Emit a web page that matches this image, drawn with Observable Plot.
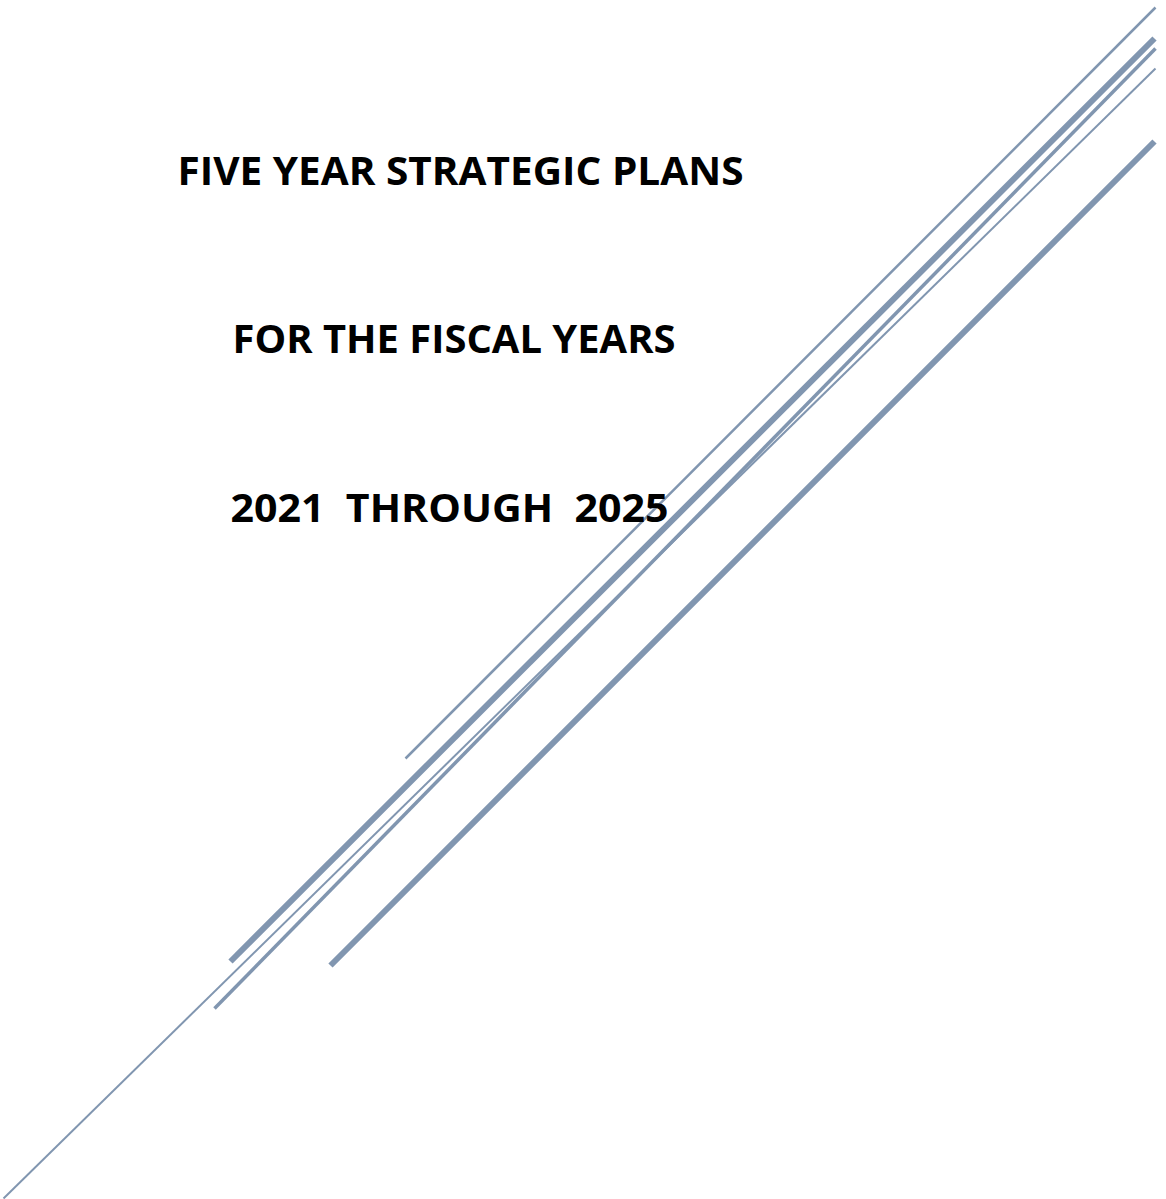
<!DOCTYPE html>
<html>
<head>
<meta charset="utf-8">
<script src="https://cdn.jsdelivr.net/npm/d3@7"></script>
<script src="https://cdn.jsdelivr.net/npm/@observablehq/plot@0.6"></script>
<style>
  html, body { margin: 0; padding: 0; background: #ffffff; }
  #chart svg { display: block; }
</style>
</head>
<body>
<div id="chart"></div>
<script>
// Title lines of the cover page
const titleLines = ["FIVE YEAR STRATEGIC PLANS", "FOR THE FISCAL YEARS", "2021  THROUGH  2025"];
const titleX = [177, 232, 230];
const titleY = [172.5, 340.5, 509.5];
const titleEndX = [743, 675, 668];

// Decorative diagonal rules (page coordinates, top-right end and bottom-left end)
const ruleTopX    = [1155, 1154, 1155, 1155, 1154];
const ruleTopY    = [7,    38,   48,   68,   141];
const ruleBottomX = [405,  230,  214,  3,    330];
const ruleBottomY = [758,  961,  1008, 1198, 965];
const ruleWeight  = ["thin", "thick", "medium", "hair", "thick"];

const W = 1166, H = 1199;
const weightWidth = {hair: 2, thin: 2.5, medium: 3.5, thick: 6};

const rules = ruleTopX.map((_, i) => ({
  x1: ruleTopX[i], y1: ruleTopY[i], x2: ruleBottomX[i], y2: ruleBottomY[i], w: ruleWeight[i]
}));
const titles = titleLines.map((t, i) => ({text: t, x: titleX[i], y: titleY[i], len: titleEndX[i] - titleX[i]}));

const plot = Plot.plot({
  width: W,
  height: H,
  margin: 0,
  style: {background: "#ffffff", overflow: "visible"},
  x: {domain: [0, W], range: [0, W], axis: null},
  y: {domain: [0, H], range: [0, H], axis: null},
  marks: [
    ...["hair", "thin", "medium", "thick"].map(w => Plot.link(rules.filter(d => d.w === w), {
      x1: "x1", y1: "y1", x2: "x2", y2: "y2",
      stroke: "#8196B0", strokeWidth: weightWidth[w], strokeLinecap: "butt"
    })),
    Plot.text(titles, {
      x: "x", y: "y", text: "text",
      textAnchor: "start", lineAnchor: "middle",
      fontSize: 39, fontWeight: "bold", fontFamily: "'Open Sans', sans-serif",
      fill: "#000000"
    })
  ]
});
document.getElementById("chart").appendChild(plot);

// fit each title to its measured span
d3.select(plot).selectAll("g[aria-label='text'] text").each(function(d, i) {
  const t = titles[i];
  if (t) {
    this.setAttribute("textLength", t.len);
    this.setAttribute("lengthAdjust", "spacingAndGlyphs");
  }
});
</script>
</body>
</html>
